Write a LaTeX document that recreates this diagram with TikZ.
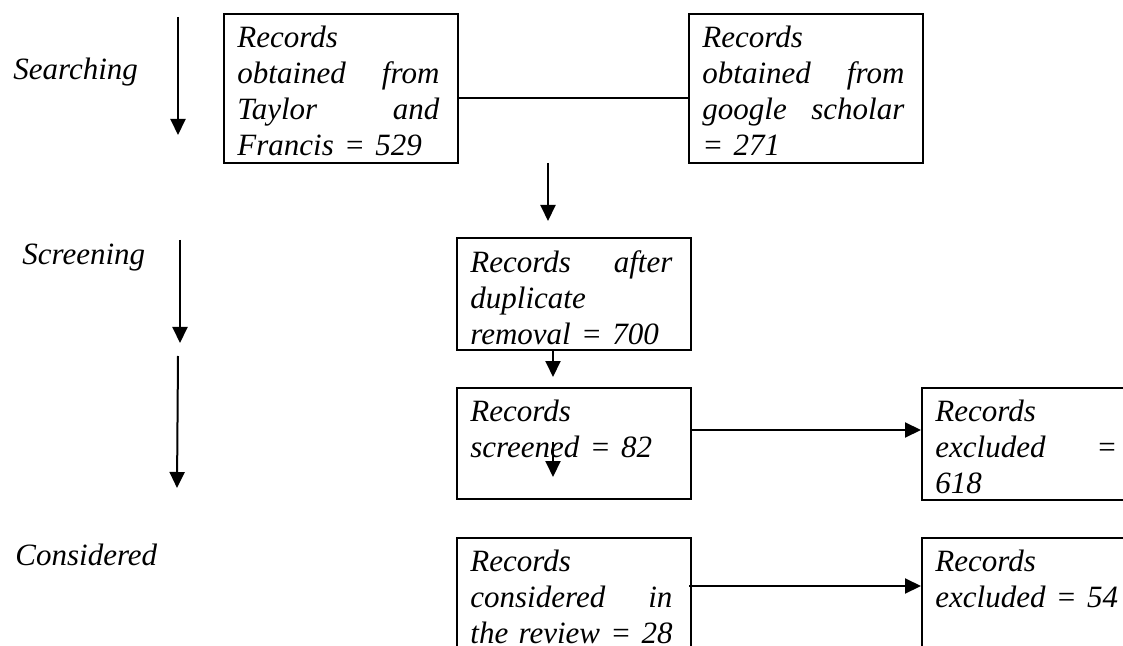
\documentclass[tikz,border=0pt]{standalone}
\usepackage{fontspec}
\setmainfont{Liberation Serif}[ItalicFont={Liberation Serif Italic}]
\usetikzlibrary{arrows.meta, positioning}

\begin{document}
\begin{tikzpicture}[
    x=0.5pt, y=-0.5pt,
    font=\fontsize{15.5}{18}\selectfont\itshape,
    box/.style={rectangle, draw, line width=1pt, anchor=north west, minimum width=117pt, inner sep=0pt},
    boxtext/.style={anchor=north west, inner sep=0pt, text width=101pt, align=left},
    stage/.style={anchor=base west, inner sep=0pt},
    arr/.style={-{Triangle[length=8pt, width=7.5pt]}, line width=1pt},
    conn/.style={line width=1pt}
]
\useasboundingbox (0,0) rectangle (1123,646);
\clip (0,0) rectangle (1123,646);

% Stage labels
\node[stage] (searching) at (13,80) {Searching};
\node[stage] (screening) at (22,265) {Screening};
\node[stage] (considered) at (15,565) {Considered};

% Boxes
\node[box, minimum height=74.5pt] (tf) at (223,13) {};
\node[box, minimum height=74.5pt] (gs) at (688,13) {};
\node[box, minimum height=56pt] (dup) at (456,237) {};
\node[box, minimum height=55.5pt] (scr) at (456,387) {};
\node[box, minimum height=56pt] (exa) at (921,387) {};
\node[box, minimum height=74.5pt] (cons) at (456,537) {};
\node[box, minimum height=74.5pt] (exb) at (921,537) {};

% Box texts
\node[boxtext] (tf-t) at ([shift={(7pt,-6.5pt)}]tf.north west) {Records\\obtained \hfill from\\Taylor \hfill and\\Francis = 529};
\node[boxtext] (gs-t) at ([shift={(7pt,-6.5pt)}]gs.north west) {Records\\obtained \hfill from\\google \hfill scholar\\= 271};
\node[boxtext] (dup-t) at ([shift={(7pt,-6.5pt)}]dup.north west) {Records \hfill after\\duplicate\\removal = 700};
\node[boxtext] (scr-t) at ([shift={(7pt,-6.5pt)}]scr.north west) {Records\\screened = 82};
\node[boxtext, text width=91pt] (exa-t) at ([shift={(7pt,-6.5pt)}]exa.north west) {Records\\excluded \hfill =\\618};
\node[boxtext] (cons-t) at ([shift={(7pt,-6.5pt)}]cons.north west) {Records\\considered \hfill in\\\mbox{the review = 28}};
\node[boxtext] (exb-t) at ([shift={(7pt,-6.5pt)}]exb.north west) {Records\\excluded = 54};

% Free arrow ends
\coordinate (s1a) at (178,17);  \coordinate (s1b) at (178,135);
\coordinate (s2a) at (180,240); \coordinate (s2b) at (180,343);
\coordinate (s3a) at (178,356); \coordinate (s3b) at (177,488);
\coordinate (m1a) at (548,163); \coordinate (m1b) at (548,221);
\coordinate (m2a) at (553,350); \coordinate (m2b) at (553,377);
\coordinate (m3a) at (553,442); \coordinate (m3b) at (553,477);

% Arrows
\draw[arr] (s1a) -- (s1b);
\draw[arr] (s2a) -- (s2b);
\draw[arr] (s3a) -- (s3b);
\draw[conn] ([yshift=-4.75pt]tf.east) -- ([yshift=-4.75pt]gs.west);
\draw[arr] (m1a) -- (m1b);
\draw[arr] (m2a) -- (m2b);
\draw[arr] (m3a) -- (m3b);
\draw[arr] ([yshift=6.75pt]scr.east) -- ([yshift=6.75pt]scr.east -| exa.west);
\draw[arr] ([xshift=-1.5pt]cons.east |- 0,586) -- (exb.west |- 0,586);

\end{tikzpicture}
\end{document}
